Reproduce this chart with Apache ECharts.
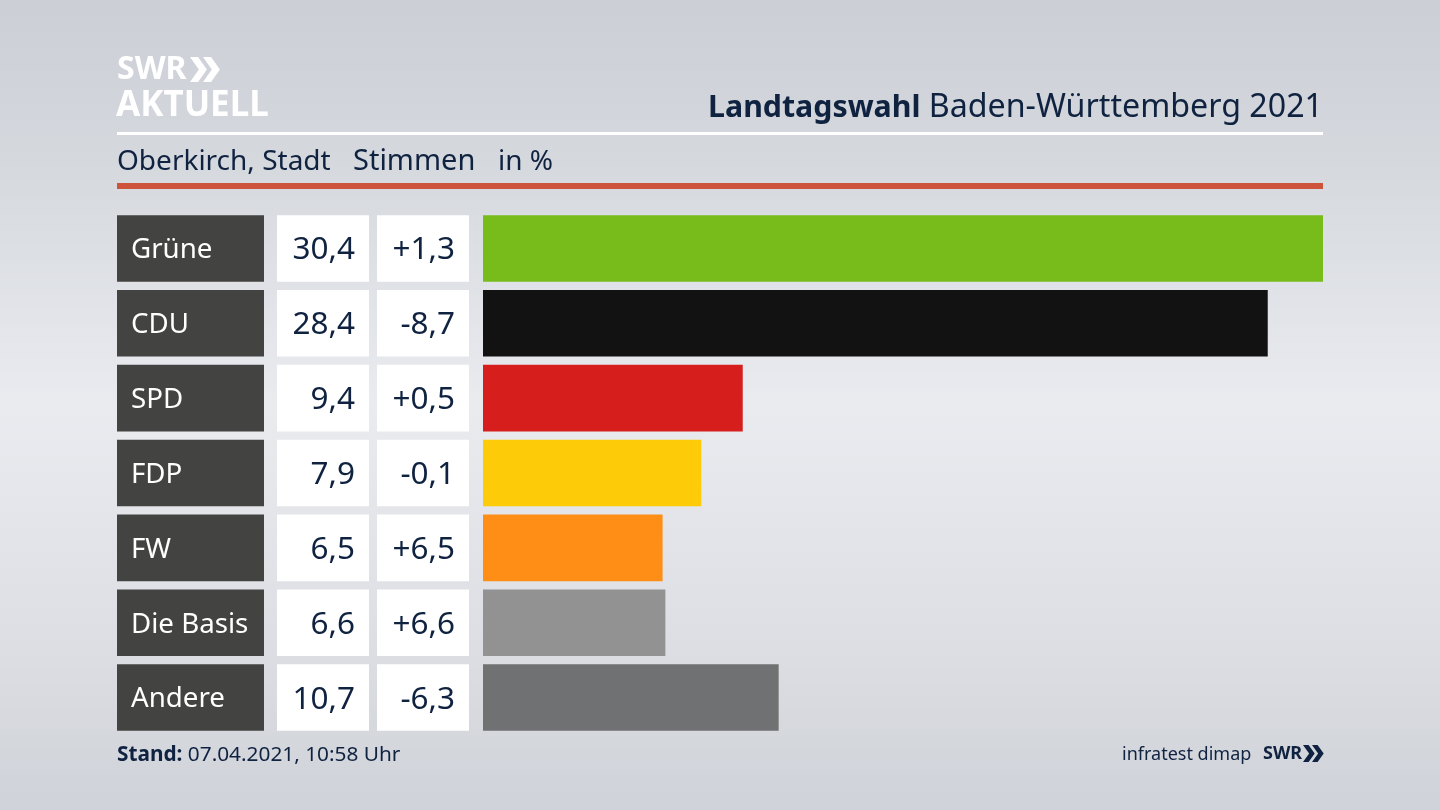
<!DOCTYPE html>
<html>
<head>
<meta charset="utf-8">
<title>Landtagswahl Baden-Württemberg 2021</title>
<script src="https://cdn.jsdelivr.net/npm/echarts@6/dist/echarts.min.js"></script>
<style>
  html, body { margin: 0; padding: 0; }
  #viz { width: 1440px; height: 810px; }
</style>
</head>
<body>
<div id="viz"></div>
<script>
const parties = ['Grüne', 'CDU', 'SPD', 'FDP', 'FW', 'Die Basis', 'Andere']
const shares = [30.4, 28.4, 9.4, 7.9, 6.5, 6.6, 10.7]
const changes = [1.3, -8.7, 0.5, -0.1, 6.5, 6.6, -6.3]
const partyColors = ['#78bc1b', '#121212', '#d61f1c', '#fecb09', '#fe8e16', '#929292', '#707172']

const FONT = '"Noto Sans"'
const NAVY = '#0f2240'

const comma = (v) => Math.abs(v).toFixed(1).replace('.', ',')
const signed = (v) => (v < 0 ? '-' : '+') + comma(v)

// one grid per column, all rows share the same band layout
const gridTop = 211
const gridHeight = 524
const rowHeight = 66.6
const columns = [
  { left: 117, width: 147 },
  { left: 277, width: 92 },
  { left: 377, width: 92 },
  { left: 483, width: 840 },
]

const cellSeries = (index, color, text, labelOpts) => ({
  type: 'bar',
  xAxisIndex: index,
  yAxisIndex: index,
  barWidth: rowHeight,
  silent: true,
  data: parties.map((p, i) => ({ value: 1, name: text[i] })),
  itemStyle: { color },
  label: {
    show: true,
    formatter: (d) => d.name,
    fontFamily: FONT,
    offset: [0, 2],
    ...labelOpts,
  },
})

const chevrons = (x, y, h, w, color) =>
  [0, 1].map((n) => ({
    type: 'polygon',
    shape: {
      points: [
        [x + n * w, y],
        [x + n * w + w * 0.62, y],
        [x + n * w + w * 1.3, y + h / 2],
        [x + n * w + w * 0.62, y + h],
        [x + n * w, y + h],
        [x + n * w + w * 0.68, y + h / 2],
      ],
    },
    style: { fill: color },
  }))

const myChart = echarts.init(document.getElementById('viz'), null, { renderer: 'canvas' })

myChart.setOption({
  animation: false,
  backgroundColor: {
    type: 'linear',
    x: 0,
    y: 0,
    x2: 0,
    y2: 1,
    colorStops: [
      { offset: 0, color: '#cbced5' },
      { offset: 0.2, color: '#d5d8dd' },
      { offset: 0.5, color: '#e9ebef' },
      { offset: 0.8, color: '#dcdee3' },
      { offset: 1, color: '#cfd2d8' },
    ],
  },
  grid: columns.map((c) => ({ left: c.left, width: c.width, top: gridTop, height: gridHeight })),
  xAxis: columns.map((c, i) => ({
    type: 'value',
    gridIndex: i,
    min: 0,
    max: i === 3 ? 30.4 : 1,
    show: false,
  })),
  yAxis: columns.map((c, i) => ({
    type: 'category',
    gridIndex: i,
    inverse: true,
    data: parties,
    show: false,
  })),
  series: [
    cellSeries(0, '#434341', parties, {
      position: 'insideLeft',
      distance: 14,
      color: '#ffffff',
      fontSize: 27.7,
    }),
    cellSeries(1, '#ffffff', shares.map(comma), {
      position: 'insideRight',
      distance: 14,
      color: NAVY,
      fontSize: 31.5,
    }),
    cellSeries(2, '#ffffff', changes.map(signed), {
      position: 'insideRight',
      distance: 14,
      color: NAVY,
      fontSize: 31.5,
    }),
    {
      type: 'bar',
      xAxisIndex: 3,
      yAxisIndex: 3,
      barWidth: rowHeight,
      silent: true,
      data: shares.map((v, i) => ({ value: v, itemStyle: { color: partyColors[i] } })),
    },
  ],
  graphic: [
    {
      type: 'text',
      left: 117,
      top: 54,
      style: { text: 'SWR', fontFamily: FONT, fontWeight: 700, fontSize: 32, fill: '#ffffff' },
    },
    ...chevrons(190, 57, 25, 13, '#ffffff'),
    {
      type: 'text',
      left: 116,
      top: 89,
      style: { text: 'AKTUELL', fontFamily: FONT, fontWeight: 700, fontSize: 35, fill: '#ffffff' },
    },
    {
      type: 'text',
      right: 117,
      top: 92,
      style: {
        text: '{b|Landtagswahl} Baden-Württemberg 2021',
        fontFamily: FONT,
        fontSize: 32.2,
        fill: NAVY,
        rich: { b: { fontFamily: FONT, fontWeight: 700, fontSize: 30.3, fill: NAVY } },
      },
    },
    { type: 'rect', shape: { x: 117, y: 132, width: 1206, height: 3 }, style: { fill: '#ffffff' } },
    {
      type: 'text',
      left: 117,
      top: 148,
      style: { text: 'Oberkirch, Stadt', fontFamily: FONT, fontSize: 28, fill: NAVY },
    },
    {
      type: 'text',
      left: 353,
      top: 147,
      style: { text: 'Stimmen', fontFamily: FONT, fontSize: 29, fill: NAVY },
    },
    {
      type: 'text',
      left: 498,
      top: 148,
      style: { text: 'in %', fontFamily: FONT, fontSize: 28, fill: NAVY },
    },
    { type: 'rect', shape: { x: 117, y: 183, width: 1206, height: 6 }, style: { fill: '#cd533a' } },
    {
      type: 'text',
      left: 117,
      top: 745,
      style: {
        text: '{b|Stand:} 07.04.2021, 10:58 Uhr',
        fontFamily: FONT,
        fontSize: 20.8,
        fill: NAVY,
        rich: { b: { fontFamily: FONT, fontWeight: 700, fontSize: 20.8, fill: NAVY } },
      },
    },
    {
      type: 'text',
      left: 1122,
      top: 746,
      style: { text: 'infratest dimap', fontFamily: FONT, fontSize: 18, fill: NAVY },
    },
    {
      type: 'text',
      left: 1263,
      top: 745,
      style: { text: 'SWR', fontFamily: FONT, fontWeight: 700, fontSize: 18, fill: NAVY },
    },
    ...chevrons(1303, 745, 17, 9, NAVY),
  ],
})
</script>
</body>
</html>
